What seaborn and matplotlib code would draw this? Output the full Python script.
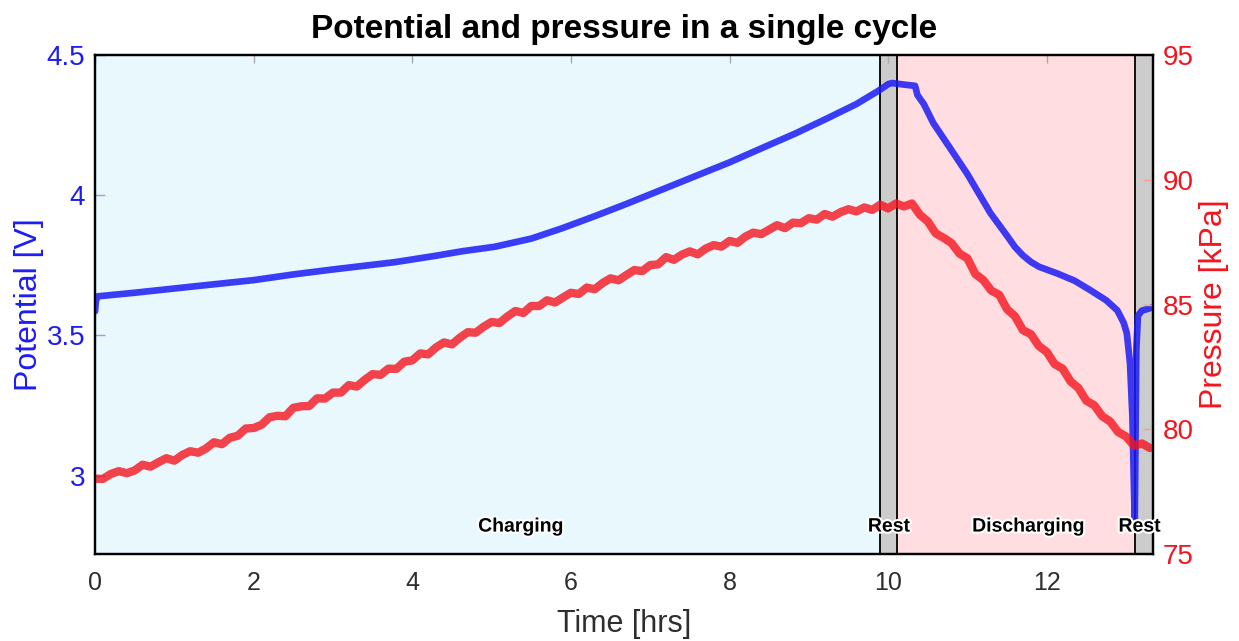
import numpy as np
import seaborn as sns
import matplotlib.pyplot as plt
import matplotlib.patheffects as pe
from matplotlib.transforms import blended_transform_factory

sns.set_style("white")
plt.rcParams['font.family'] = ['Liberation Sans', 'DejaVu Sans']

# potential [V] vs time [hrs]
pot_time = [0.0, 0.01, 0.03, 0.5, 1.26, 2.0, 2.52, 3.0, 3.78, 4.3, 4.63, 5.04, 5.5, 5.89,
            6.3, 6.72, 7.15, 7.57, 8.0, 8.41, 8.83, 9.24, 9.6, 9.87, 9.95, 10.0, 10.05,
            10.21, 10.34, 10.37, 10.45, 10.57, 10.8, 11.0, 11.29, 11.5, 11.6, 11.7, 11.8,
            11.9, 12.13, 12.35, 12.55, 12.75, 12.89, 12.97, 13.01, 13.05, 13.08, 13.1,
            13.11, 13.13, 13.15, 13.2, 13.34]
potential = [3.586, 3.62, 3.639, 3.652, 3.675, 3.697, 3.718, 3.735, 3.761, 3.784, 3.80,
             3.816, 3.845, 3.882, 3.925, 3.971, 4.02, 4.068, 4.117, 4.168, 4.22, 4.275,
             4.325, 4.371, 4.386, 4.396, 4.40, 4.394, 4.39, 4.357, 4.325, 4.257, 4.16,
             4.075, 3.936, 3.855, 3.815, 3.785, 3.762, 3.745, 3.721, 3.695, 3.661, 3.625,
             3.589, 3.545, 3.507, 3.40, 3.21, 2.95, 2.84, 3.45, 3.57, 3.588, 3.60]

# pressure [kPa], sampled every 0.1 hrs
pressure = [78.02, 78.01, 78.21, 78.32, 78.24, 78.35, 78.58, 78.50, 78.68, 78.84,
            78.74, 78.97, 79.12, 79.06, 79.23, 79.48, 79.40, 79.66, 79.74, 80.03,
            80.05, 80.18, 80.48, 80.54, 80.52, 80.86, 80.92, 80.93, 81.24, 81.23,
            81.47, 81.47, 81.77, 81.71, 81.98, 82.21, 82.18, 82.43, 82.42, 82.71,
            82.76, 83.04, 83.00, 83.28, 83.48, 83.40, 83.67, 83.89, 83.87, 84.11,
            84.30, 84.26, 84.52, 84.74, 84.66, 84.94, 84.94, 85.17, 85.08, 85.28,
            85.47, 85.42, 85.68, 85.61, 85.86, 86.05, 85.97, 86.18, 86.38, 86.34,
            86.58, 86.61, 86.90, 86.79, 87.00, 87.13, 87.01, 87.24, 87.38, 87.32,
            87.55, 87.47, 87.72, 87.88, 87.82, 88.00, 88.18, 88.06, 88.28, 88.26,
            88.46, 88.40, 88.63, 88.52, 88.70, 88.82, 88.73, 88.89, 88.79, 89.00,
            88.85, 89.05, 88.93, 89.05, 88.60, 88.33, 87.85, 87.67, 87.46, 87.04,
            86.85, 86.22, 85.98, 85.56, 85.39, 84.81, 84.53, 83.97, 83.81, 83.34,
            83.10, 82.61, 82.43, 81.92, 81.65, 81.14, 80.96, 80.52, 80.31, 79.89,
            79.71, 79.34, 79.43, 79.25]
pres_time = np.arange(len(pressure)) / 10.0

# cycle phases
phases = ['Charging', 'Rest', 'Discharging', 'Rest']
phase_start = [0.0, 9.9, 10.11, 13.11]
phase_end = [9.9, 10.11, 13.11, 13.34]
phase_color = ['#e8f8fd', '#cccccc', '#ffdde0', '#cccccc']
label_pos = [5.37, 10.01, 11.77, 13.17]

x_ticks = [0, 2, 4, 6, 8, 10, 12]
v_ticks = [3, 3.5, 4, 4.5]
v_labels = ['3', '3.5', '4', '4.5']
p_ticks = [75, 80, 85, 90, 95]

blue = '#1c1cf5'
red = '#f5141e'

fig = plt.figure(figsize=(12.39, 6.41), dpi=100)
ax = fig.add_axes([0.0767, 0.1357, 0.8539, 0.7785])
ax2 = ax.twinx()

for s, e, c in zip(phase_start, phase_end, phase_color):
    ax.axvspan(s, e, color=c, zorder=0, lw=0)
for b in phase_start[1:]:
    ax.axvline(b, color='black', lw=1.3, zorder=1)

sns.lineplot(x=pot_time, y=potential, ax=ax, color=blue, linewidth=4.8, alpha=0.85,
             zorder=3)
sns.lineplot(x=pres_time, y=pressure, ax=ax2, color=red, linewidth=6, alpha=0.8,
             solid_joinstyle='round', solid_capstyle='round')

ax.set_xlim(0, 13.34)
ax.set_ylim(2.72, 4.5)
ax2.set_ylim(75, 95)

ax.set_xticks(x_ticks)
ax.set_yticks(v_ticks)
ax.set_yticklabels(v_labels)
ax2.set_yticks(p_ticks)

ax.tick_params(axis='x', direction='in', length=6, width=1, color='#aaaaaa',
               labelsize=18, labelcolor='#2e2e2e', pad=12, top=True)
ax.tick_params(axis='y', direction='in', length=7, width=1, color='#9999ff',
               labelsize=20, labelcolor=blue, pad=7)
ax2.tick_params(axis='y', direction='in', length=7, width=1, color='#ff9999',
                labelsize=20, labelcolor=red, pad=7)

ax.set_xlabel('Time [hrs]', fontsize=22, color='#2e2e2e', labelpad=10)
ax.set_ylabel('Potential [V]', fontsize=23, color=blue, labelpad=2)
ax2.set_ylabel('Pressure [kPa]', fontsize=23, color=red, labelpad=4)
ax.set_title('Potential and pressure in a single cycle', fontsize=24,
             fontweight='bold', color='black', pad=12)

for a in (ax, ax2):
    for sp in a.spines.values():
        sp.set_color('black')
        sp.set_linewidth(1.6)

tr = blended_transform_factory(ax.transData, ax.transAxes)
for name, xp in zip(phases, label_pos):
    ax2.text(xp, 0.054, name, transform=tr, ha='center', va='center', fontsize=14,
             fontweight='bold', color='black', zorder=5,
             path_effects=[pe.withStroke(linewidth=3, foreground='white')])

fig.savefig('out.png', dpi=100)
